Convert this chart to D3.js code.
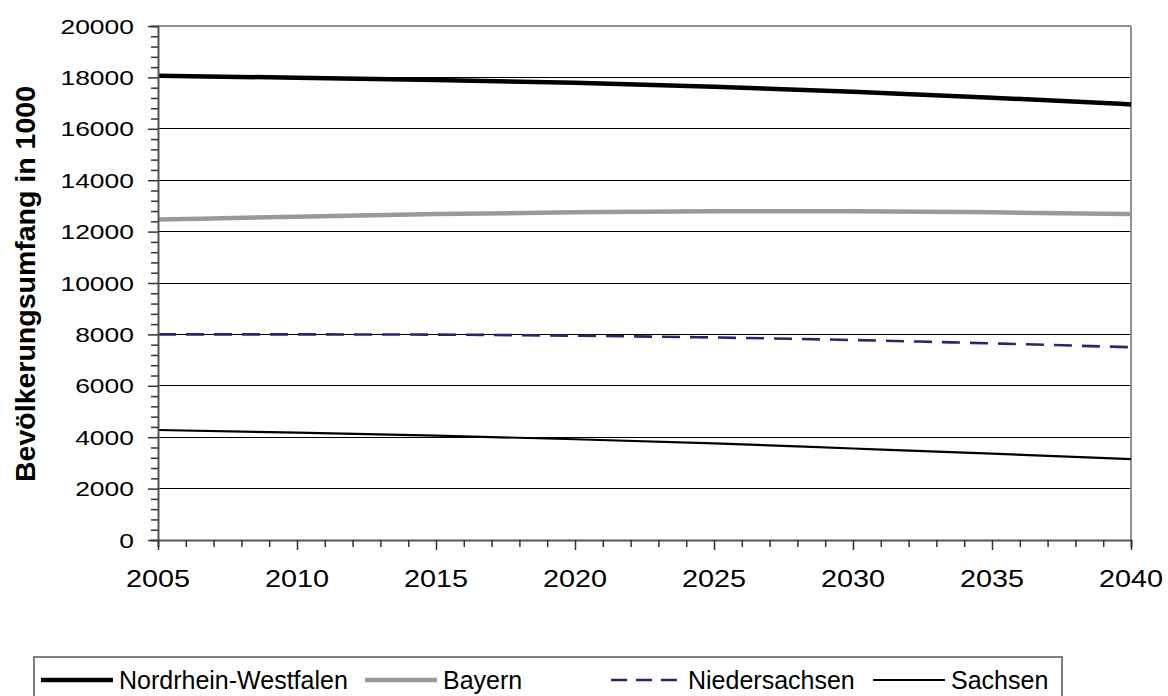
<!DOCTYPE html>
<html>
<head>
<meta charset="utf-8">
<script src="https://cdn.jsdelivr.net/npm/d3@7"></script>
<style>
html,body{margin:0;padding:0;background:#fff;}
svg{display:block;font-family:"Liberation Sans",Arial,sans-serif;}
</style>
</head>
<body>
<svg id="chart" width="1168" height="696"></svg>
<script>
const years = [2005, 2010, 2015, 2020, 2025, 2030, 2035, 2040];
const nrw = [18060, 17990, 17900, 17790, 17640, 17440, 17210, 16950];
const bayern = [12470, 12580, 12680, 12750, 12790, 12790, 12750, 12680];
const niedersachsen = [8000, 8000, 7990, 7950, 7880, 7780, 7650, 7500];
const sachsen = [4280, 4180, 4060, 3920, 3760, 3560, 3360, 3150];
const seriesNames = ["Nordrhein-Westfalen", "Bayern", "Niedersachsen", "Sachsen"];
const yTicks = [0, 2000, 4000, 6000, 8000, 10000, 12000, 14000, 16000, 18000, 20000];
const xTicks = [2005, 2010, 2015, 2020, 2025, 2030, 2035, 2040];
const yTitle = "Bevölkerungsumfang in 1000";

const styles = [
  {color: "#000000", width: 4.5, dash: null, ldash: null},
  {color: "#999999", width: 4.5, dash: null, ldash: null},
  {color: "#262673", width: 2.6, dash: "18,10", ldash: "16,9"},
  {color: "#000000", width: 2.2, dash: null, ldash: null}
];
const seriesData = [nrw, bayern, niedersachsen, sachsen];

const svg = d3.select("#chart");
const pL = 158, pR = 1131, pT = 26, pB = 540;
const x = d3.scaleLinear().domain([2005, 2040]).range([pL, pR]);
const y = d3.scaleLinear().domain([0, 20000]).range([pB, pT]);

// gridlines
svg.append("g").selectAll("line").data(yTicks.filter(d => d > 0 && d < 20000)).join("line")
  .attr("x1", pL).attr("x2", pR).attr("y1", d => y(d)).attr("y2", d => y(d))
  .attr("stroke", "#000").attr("stroke-width", 1).attr("shape-rendering", "crispEdges");

// plot border top/right
svg.append("line").attr("x1", pL).attr("x2", pR).attr("y1", pT).attr("y2", pT)
  .attr("stroke", "#909090").attr("stroke-width", 2);
svg.append("line").attr("x1", pR).attr("x2", pR).attr("y1", pT).attr("y2", pB)
  .attr("stroke", "#909090").attr("stroke-width", 2);

// lines
const line = d3.line().x((d, i) => x(years[i])).y(d => y(d)).curve(d3.curveMonotoneX);
seriesData.forEach((s, k) => {
  svg.append("path").datum(s).attr("d", line).attr("fill", "none")
    .attr("stroke", styles[k].color).attr("stroke-width", styles[k].width)
    .attr("stroke-dasharray", styles[k].dash);
});

// y axis
const yMinor = d3.range(0, 20001, 400);
const yAxisG = svg.append("g").attr("transform", `translate(${pL},0)`);
yAxisG.call(d3.axisLeft(y).tickValues(yMinor).tickSize(7).tickFormat(""));
yAxisG.call(g => g.selectAll(".tick").filter(d => d % 2000 === 0).select("line").attr("x2", -10));
yAxisG.select(".domain").attr("stroke", "#555").attr("stroke-width", 2);
yAxisG.selectAll(".tick line").attr("stroke", "#333").attr("stroke-width", 1.5);
svg.append("g").selectAll("text").data(yTicks).join("text")
  .attr("transform", d => `translate(134,${y(d) + 7.5}) scale(1.26,1)`)
  .attr("text-anchor", "end").attr("font-size", 21).attr("fill", "#000").text(d => d);

// x axis
const xMinor = d3.range(2005, 2041, 1);
const xAxisG = svg.append("g").attr("transform", `translate(0,${pB})`);
xAxisG.call(d3.axisBottom(x).tickValues(xMinor).tickSize(7).tickFormat(""));
xAxisG.call(g => g.selectAll(".tick").filter(d => d % 5 === 0).select("line").attr("y2", 10));
xAxisG.select(".domain").attr("stroke", "#555").attr("stroke-width", 2);
xAxisG.selectAll(".tick line").attr("stroke", "#333").attr("stroke-width", 1.5);
svg.append("g").selectAll("text").data(xTicks).join("text")
  .attr("transform", d => `translate(${x(d)},587) scale(1.2,1)`)
  .attr("text-anchor", "middle").attr("font-size", 24).attr("fill", "#000").text(d => d);

// y title
svg.append("text").attr("transform", "translate(35,284) rotate(-90)")
  .attr("text-anchor", "middle").attr("font-size", 28.5).attr("font-weight", "bold")
  .text(yTitle);

// legend
const lg = svg.append("g");
lg.append("rect").attr("x", 34).attr("y", 657).attr("width", 1028).attr("height", 50)
  .attr("fill", "#fff").attr("stroke", "#555").attr("stroke-width", 1.5);
const legendX = [41, 365, 611, 873];
const legendLen = [72, 72, 66, 72];
const legendTextX = [119, 443, 688, 951];
seriesNames.forEach((n, k) => {
  const lx = legendX[k];
  lg.append("line").attr("x1", lx).attr("x2", lx + legendLen[k]).attr("y1", 680).attr("y2", 680)
    .attr("stroke", styles[k].color).attr("stroke-width", styles[k].width)
    .attr("stroke-dasharray", styles[k].ldash);
  lg.append("text").attr("x", legendTextX[k]).attr("y", 689).attr("font-size", 25)
    .attr("fill", "#000").text(n);
});
</script>
</body>
</html>
